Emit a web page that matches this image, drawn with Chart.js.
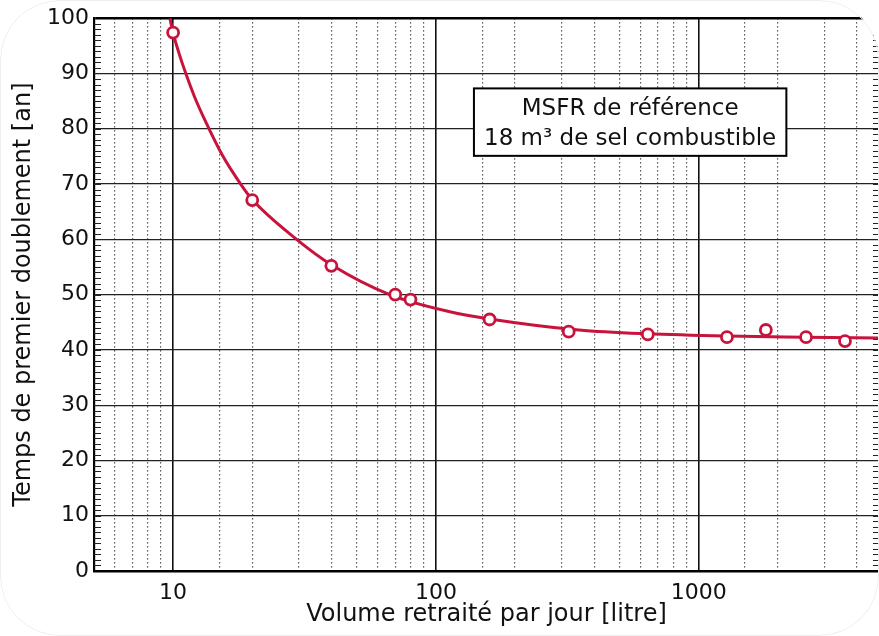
<!DOCTYPE html>
<html>
<head>
<meta charset="utf-8">
<script src="https://cdn.jsdelivr.net/npm/chart.js@4.4.1/dist/chart.umd.min.js"></script>
<style>
  html, body { margin: 0; padding: 0; background: #fff; }
  .card { position: relative; width: 879px; height: 636px; border-radius: 60px; overflow: hidden; background: #fff; }
  .card::after { content: ''; position: absolute; inset: 0; border: 1px solid #eeeeee; border-radius: 60px; pointer-events: none; }
  canvas { display: block; }
</style>
</head>
<body>
<div class="card"><canvas id="doublingChart" width="879" height="636"></canvas></div>
<script>
// Volume retraité par jour (litres) et temps de premier doublement (ans)
const volumes = [10, 20, 40, 70, 80, 160, 320, 640, 1280, 1800, 2560, 3600];
const doublingTimes = [97.4, 67.1, 55.2, 50.0, 49.1, 45.5, 43.3, 42.8, 42.3, 43.6, 42.3, 41.6];

// Courbe d'ajustement
const fitVolumes = [9.72, 10, 10.54, 11.1, 12.06, 13.2, 15.4, 18.07, 20, 29.5, 40, 66.7, 113, 160, 350, 640, 1280, 2560, 4850];
const fitTimes = [100, 97.3, 93.6, 90.4, 85.8, 81.6, 75.2, 70.0, 67.2, 60, 55.4, 50, 46.9, 45.6, 43.6, 42.9, 42.5, 42.3, 42.15];

const xLabelValues = [10, 100, 1000];
const noteLines = ['MSFR de référence', '18 m³ de sel combustible'];

const red = '#c8143c';
const fontFamily = "'Comic Sans MS', 'DejaVu Sans', sans-serif";
const X_MIN = 5, X_MAX = 4850;

const isDecade = v => Math.abs(Math.log10(v) - Math.round(Math.log10(v))) < 1e-6;

// petites graduations de l'axe des temps, vers l'intérieur, à gauche et à droite
const minorTicks = {
  id: 'minorTicks',
  beforeDatasetsDraw(chart) {
    const { ctx, chartArea: a, scales: { y } } = chart;
    ctx.save();
    ctx.strokeStyle = '#222';
    ctx.lineWidth = 1;
    ctx.beginPath();
    for (let v = 1; v < 100; v++) {
      const py = Math.round(y.getPixelForValue(v)) + 0.5;
      ctx.moveTo(a.left, py);
      ctx.lineTo(a.left + 7, py);
      ctx.moveTo(a.right - 6, py);
      ctx.lineTo(a.right, py);
    }
    ctx.stroke();
    ctx.restore();
  }
};

// encadré de légende
const noteBox = {
  id: 'noteBox',
  afterDatasetsDraw(chart) {
    const { ctx, chartArea: a } = chart;
    const w = a.right - a.left, h = a.bottom - a.top;
    const x0 = a.left + w * 0.484, x1 = a.left + w * 0.882;
    const y0 = a.top + h * 0.127, y1 = a.top + h * 0.249;
    ctx.save();
    ctx.fillStyle = '#fff';
    ctx.fillRect(x0, y0, x1 - x0, y1 - y0);
    ctx.strokeStyle = '#000';
    ctx.lineWidth = 2;
    ctx.strokeRect(x0, y0, x1 - x0, y1 - y0);
    ctx.fillStyle = '#111';
    ctx.font = '23px ' + fontFamily;
    ctx.textAlign = 'center';
    ctx.textBaseline = 'middle';
    const cx = (x0 + x1) / 2, bh = y1 - y0;
    ctx.fillText(noteLines[0], cx, y0 + bh * 0.30);
    ctx.fillText(noteLines[1], cx, y0 + bh * 0.75);
    ctx.restore();
  }
};

new Chart(document.getElementById('doublingChart').getContext('2d'), {
  type: 'scatter',
  data: {
    datasets: [{
      label: 'Calculs',
      data: volumes.map((v, i) => ({ x: v, y: doublingTimes[i] })),
      pointStyle: 'circle',
      pointRadius: 5.5,
      pointBorderWidth: 2.8,
      pointBorderColor: red,
      pointBackgroundColor: '#fff',
      showLine: false
    }, {
      label: 'Ajustement',
      data: fitVolumes.map((v, i) => ({ x: v, y: fitTimes[i] })),
      showLine: true,
      borderColor: red,
      borderWidth: 3,
      pointRadius: 0,
      cubicInterpolationMode: 'monotone'
    }]
  },
  options: {
    responsive: false,
    animation: false,
    layout: { autoPadding: false, padding: { top: 18, left: 0, right: 0, bottom: 0 } },
    plugins: { legend: { display: false }, tooltip: { enabled: false } },
    scales: {
      x: {
        type: 'logarithmic',
        min: X_MIN,
        max: X_MAX,
        afterFit(scale) {
          scale.height = 65;
          scale.paddingLeft = 0;
          scale.paddingRight = 0;
        },
        grid: {
          drawTicks: false,
          color: c => (c.tick && c.tick.value >= X_MAX) ? 'rgba(0,0,0,0)' : (c.tick && isDecade(c.tick.value) ? '#111' : '#333'),
          lineWidth: c => (c.tick && isDecade(c.tick.value)) ? 1.6 : 1.2
        },
        border: {
          color: '#000',
          width: 2.5,
          dash: c => (c.tick && !isDecade(c.tick.value)) ? [1.2, 2.8] : []
        },
        ticks: {
          autoSkip: false,
          maxRotation: 0,
          padding: 9,
          color: '#111',
          font: { family: fontFamily, size: 22 },
          callback: v => xLabelValues.some(t => Math.abs(t - v) < 1e-6) ? String(v) : ''
        },
        title: {
          display: true,
          text: 'Volume retraité par jour [litre]',
          color: '#111',
          font: { family: fontFamily, size: 24 },
          padding: { top: 0, bottom: 7 }
        }
      },
      y: {
        min: 0,
        max: 100,
        afterFit(scale) { scale.width = 94; },
        grid: {
          drawTicks: false,
          color: c => (c.tick && c.tick.value === 100) ? '#000' : '#222',
          lineWidth: c => (c.tick && c.tick.value === 100) ? 2.5 : 1.2
        },
        border: { color: '#000', width: 2.2 },
        ticks: {
          stepSize: 10,
          padding: 5,
          color: '#111',
          font: { family: fontFamily, size: 22 }
        },
        title: {
          display: true,
          text: 'Temps de premier doublement [an]',
          color: '#111',
          font: { family: fontFamily, size: 24 },
          padding: { top: 9, bottom: 0 }
        }
      }
    }
  },
  plugins: [minorTicks, noteBox]
});
</script>
</body>
</html>
